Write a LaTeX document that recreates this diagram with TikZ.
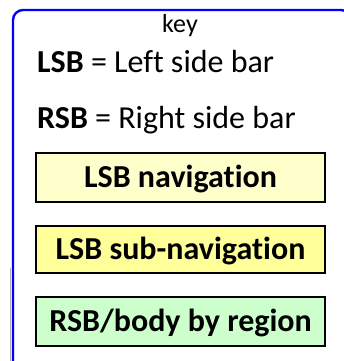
\documentclass[tikz,border=0pt]{standalone}
\usepackage{fontspec}
\setmainfont[Ligatures={NoCommon}]{Carlito}
\begin{document}
\begin{tikzpicture}[x=1pt,y=-1pt,
  keybox/.style={draw=black, line width=2pt, minimum width=289pt, inner sep=0pt,
    text height=19.5pt, text depth=0pt, font=\fontsize{32}{32}\selectfont\bfseries},
  keytext/.style={anchor=base west, inner sep=0pt, font=\fontsize{32}{32}\selectfont}
]
\useasboundingbox (0,0) rectangle (344,361);
\clip (0,0) rectangle (344,361);
\fill[white] (0,0) rectangle (344,361);
\draw[blue, line width=2.4pt, rounded corners=10pt] (13,380) -- (13,10) -- (351,10) -- (351,380);
\draw[gray!60, line width=1pt] (10.8,268) -- (10.8,361);
\node[anchor=base, inner sep=0pt, font=\fontsize{26}{26}\selectfont] (key) at (180,33) {key};
\node[keytext] (lsb) at (37,72) {\textbf{LSB} = Left side bar};
\node[keytext] (rsb) at (37,128) {\textbf{RSB} = Right side bar};
\node[keybox, fill={rgb,255:red,255;green,255;blue,204}, minimum height=49pt] (nav) at (180.5,177.5) {LSB navigation};
\node[keybox, fill={rgb,255:red,255;green,255;blue,153}, minimum height=47pt] (sub) at (180.5,249.5) {LSB sub-navigation};
\node[keybox, fill={rgb,255:red,204;green,255;blue,204}, minimum height=49pt] (body) at (180.5,321.5) {RSB/body by region};
\end{tikzpicture}
\end{document}
